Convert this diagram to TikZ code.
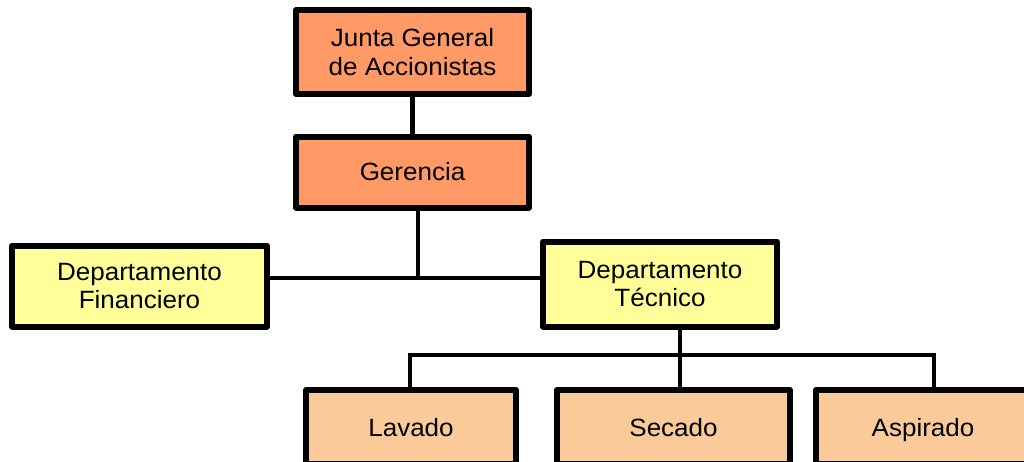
\documentclass[tikz,border=0pt]{standalone}
\usepackage{fontspec}
\setmainfont{Liberation Sans}[FakeStretch=1.04]
\definecolor{salmon}{HTML}{FF9966}
\definecolor{amarillo}{HTML}{FFFF99}
\definecolor{durazno}{HTML}{FACB98}
\begin{document}
\begin{tikzpicture}[x=1pt,y=-1pt,
  caja/.style={draw,line width=6pt,line join=round,inner sep=0pt,align=center,
    font=\fontsize{25}{28.5}\selectfont},
  jefe/.style={caja,fill=salmon,minimum width=233pt},
  depto/.style={caja,fill=amarillo},
  area/.style={caja,fill=durazno,minimum height=74pt,text depth=0pt},
  linea/.style={line width=4.5pt}]
  \useasboundingbox (0,0) rectangle (1024,461);
  \node[jefe,minimum height=84pt] (junta) at (412.5,52) {Junta General\\de Accionistas};
  \node[jefe,minimum height=71pt] (ger) at (412.5,172) {Gerencia};
  \node[depto,minimum width=255pt,minimum height=81pt] (fin) at (139.5,286) {Departamento\\Financiero};
  \node[depto,minimum width=234pt,minimum height=85pt] (tec) at (660,284) {Departamento\\Técnico};
  \node[area,minimum width=210pt] (lav) at (411,427) {Lavado};
  \node[area,minimum width=233pt] (sec) at (673.5,427) {Secado};
  \node[area,minimum width=214pt] (asp) at (923,427) {Aspirado};
  % uniones
  \coordinate (j1) at (418,278);
  \coordinate (j2) at (680,355);
  \coordinate (izq) at (410,355);
  \coordinate (der) at (934,355);
  \draw[linea] (junta) -- (ger);
  \draw[linea] (ger.south -| j1) -- (j1);
  \draw[linea] (fin.east |- j1) -- (tec.west |- j1);
  \draw[linea] (tec.south -| j2) -- (sec.north -| j2);
  \draw[linea] (lav.north -| izq) -- (izq) -- (der) -- (asp.north -| der);
\end{tikzpicture}
\end{document}
